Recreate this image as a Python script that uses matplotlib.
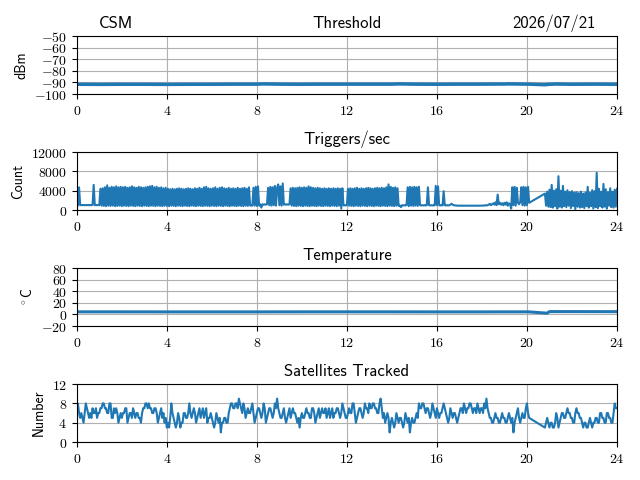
import matplotlib
matplotlib.use("Agg")
import matplotlib.pyplot as plt
import numpy as np
from matplotlib.ticker import FuncFormatter

plt.rcParams['mathtext.fontset'] = 'cm'
plt.rcParams['font.family'] = ['cmss10', 'DejaVu Sans']
plt.rcParams['axes.unicode_minus'] = False

station = "CSM"
date_str = "2026/07/21"

# sample interval of the detector log, in hours (3 min)
dt_log = 0.05

# threshold (dBm), gap between 20.1 and 20.8
thr_hours = [0, 1, 2, 3, 4, 5, 6, 7, 8, 8.3, 9, 10, 11, 12, 13, 14, 14.3, 15, 16, 17, 18, 19, 19.2, 20, 20.1,
             20.8, 21, 21.3, 22, 23, 24]
thr_dbm = [-91.6, -91.7, -91.6, -91.6, -91.7, -91.6, -91.6, -91.5, -91.5, -91.3, -91.5, -91.6, -91.5, -91.5, -91.5,
           -91.5, -91.3, -91.5, -91.6, -91.5, -91.5, -91.4, -91.3, -91.5, -91.5,
           -92.0, -91.6, -91.4, -91.6, -91.5, -91.6]

# temperature (deg C)
temp_hours = [0, 2, 4, 6, 8, 10, 12, 14, 16, 18, 20, 20.1, 20.9, 21.0, 22, 24]
temp_c = [4.5, 4.5, 4.4, 4.4, 4.4, 4.5, 4.5, 4.5, 4.4, 4.4, 4.5, 4.4, 2.2, 4.9, 4.9, 4.8]

# triggers/sec, 0.00 .. 20.10 h
trig_counts_a = [
    4600, 900, 4700, 1000, 1050, 1000, 1050, 1000, 1050, 1000, 1050, 1000, 1050, 1000, 1050, 5200, 1000, 1050, 1000, 1050,
    1000, 4400, 900, 4500, 850, 4700, 800, 5100, 900, 4600, 850, 4800, 900, 4700, 800, 4900, 850, 4700, 900, 4800,
    800, 4700, 900, 4800, 850, 4600, 800, 4700, 900, 4900, 850, 4700, 800, 4600, 900, 4800, 850, 4700, 800, 4600,
    900, 4700, 850, 4800, 800, 4900, 900, 5000, 850, 4700, 800, 4800, 900, 4600, 850, 4700, 800, 4500, 900, 4600,
    850, 4400, 800, 4300, 900, 4400, 850, 4300, 800, 4400, 900, 4500, 850, 4400, 800, 4300, 900, 4400, 850, 4500,
    800, 4400, 900, 4300, 850, 4500, 800, 4400, 900, 4600, 850, 4400, 800, 4700, 900, 4800, 850, 4500, 800, 4400,
    900, 4500, 850, 4700, 800, 4400, 900, 4600, 850, 4700, 800, 4500, 900, 4400, 850, 4600, 800, 4400, 900, 4500,
    850, 4400, 800, 4600, 900, 4400, 850, 4500, 800, 4600, 900, 4400, 850, 4700, 950, 900, 950, 4600, 900, 4800,
    850, 4900, 900, 1200, 500, 1200, 1100, 1200, 1100, 1200, 4600, 1000, 4800, 900, 4700, 1000, 5000, 900, 4600, 5300,
    1000, 4900, 900, 5500, 1100, 1200, 1100, 1200, 1100, 1200, 4500, 900, 4600, 850, 4500, 800, 4600, 900, 4700, 850,
    4600, 800, 4700, 900, 4600, 850, 4900, 800, 4700, 900, 4600, 850, 4500, 800, 4600, 900, 4500, 850, 4400, 800,
    4500, 900, 4400, 850, 4500, 800, 4400, 900, 4500, 850, 4400, 800, 4500, 900, 4400, 300, 4500, 950, 1000, 950,
    1000, 4400, 900, 4500, 850, 4400, 800, 4500, 900, 4600, 850, 4400, 800, 4500, 900, 4400, 850, 4500, 800, 4600,
    900, 4500, 850, 4400, 800, 4500, 900, 4600, 850, 4500, 800, 4600, 900, 4500, 850, 4700, 800, 5300, 900, 4800,
    850, 4600, 800, 4700, 900, 4500, 850, 950, 600, 1000, 950, 1000, 950, 1000, 4700, 800, 4800, 900, 4700, 850,
    4800, 900, 4700, 850, 4800, 1000, 950, 1000, 950, 1000, 950, 1000, 4700, 1000, 950, 1000, 950, 1000, 950, 5000,
    1000, 4900, 1000, 950, 1000, 950, 3900, 1000, 950, 1000, 950, 1000, 1100, 1300, 1100, 1000, 950, 950, 900, 900,
    900, 900, 880, 900, 900, 880, 900, 900, 880, 900, 900, 900, 880, 900, 900, 880, 900, 900, 900, 920,
    900, 950, 900, 1000, 950, 1000, 1100, 1300, 1000, 1200, 1400, 1100, 1600, 1000, 3200, 1200, 1500, 1100, 1400, 1000,
    1500, 1100, 1600, 900, 1400, 1200, 300, 4700, 1000, 4800, 900, 4600, 1500, 1200, 1600, 4700, 1000, 4800, 900, 4700,
    1000, 4800, 1500,
]
# 20.80 .. 24.00 h
trig_start_b = 20.8
trig_counts_b = [
    3400, 900, 3800, 700, 4200, 600, 5200, 500, 4000, 800, 4300, 300, 7000, 700, 4000, 500, 5000, 800, 3800, 600,
    4100, 900, 3700, 400, 3900, 800, 3600, 200, 3700, 700, 3500, 500, 3800, 600, 3400, 400, 3600, 800, 4800, 500,
    3600, 800, 4100, 300, 3900, 600, 7700, 400, 4400, 800, 3800, 500, 5400, 700, 4300, 300, 3700, 900, 4500, 600,
    3800, 500, 4200, 700, 4400,
]

# satellites tracked, 0.00 .. 20.10 h
sats_a = [
    8, 8, 6, 5, 6, 5, 4, 6, 8, 7, 6, 5, 6, 5, 7, 6, 6, 7, 5, 6,
    6, 7, 7, 8, 8, 7, 7, 6, 6, 8, 8, 5, 5, 7, 6, 7, 6, 4, 5, 6,
    5, 6, 6, 7, 7, 4, 5, 6, 6, 5, 7, 6, 5, 6, 6, 5, 5, 4, 6, 7,
    7, 8, 8, 7, 8, 7, 7, 6, 6, 7, 7, 6, 4, 5, 6, 7, 5, 6, 4, 5,
    3, 4, 3, 5, 8, 6, 5, 4, 3, 4, 6, 5, 3, 4, 4, 6, 6, 5, 5, 6,
    8, 6, 5, 6, 7, 6, 4, 5, 6, 7, 5, 6, 7, 5, 6, 7, 4, 5, 5, 6,
    5, 4, 3, 4, 6, 5, 4, 5, 2, 4, 4, 5, 5, 4, 4, 6, 7, 8, 8, 7,
    7, 8, 8, 7, 9, 8, 7, 6, 8, 7, 5, 6, 7, 6, 6, 7, 8, 6, 4, 5,
    6, 7, 7, 6, 5, 6, 8, 7, 4, 5, 6, 7, 7, 6, 5, 6, 8, 7, 9, 7,
    6, 5, 5, 6, 7, 5, 4, 5, 6, 7, 5, 6, 7, 6, 6, 5, 4, 5, 3, 5,
    6, 5, 5, 6, 7, 6, 6, 5, 5, 7, 7, 6, 4, 5, 6, 7, 5, 6, 7, 6,
    6, 7, 5, 6, 7, 5, 6, 7, 5, 6, 6, 7, 7, 6, 5, 6, 8, 7, 6, 5,
    5, 6, 7, 6, 6, 8, 8, 6, 4, 5, 6, 7, 7, 6, 5, 6, 8, 7, 7, 6,
    8, 7, 7, 8, 8, 7, 7, 6, 6, 8, 9, 7, 5, 6, 4, 5, 6, 5, 2, 4,
    5, 4, 3, 4, 6, 5, 4, 5, 5, 4, 3, 4, 6, 5, 4, 5, 2, 4, 5, 4,
    4, 5, 6, 5, 8, 7, 7, 8, 8, 7, 6, 7, 7, 6, 5, 6, 8, 7, 6, 5,
    7, 6, 5, 6, 6, 7, 8, 7, 6, 5, 4, 5, 7, 6, 5, 6, 6, 5, 4, 5,
    6, 7, 7, 6, 8, 7, 6, 7, 7, 8, 8, 7, 6, 7, 7, 6, 8, 7, 6, 7,
    7, 6, 8, 7, 9, 7, 6, 5, 5, 4, 4, 5, 6, 5, 5, 4, 4, 5, 6, 5,
    5, 4, 4, 5, 6, 5, 4, 5, 2, 4, 5, 6, 7, 5, 4, 5, 6, 5, 5, 7,
    8, 6, 5,
]
sats_start_b = 20.8
sats_b = [
    3, 4, 5, 4, 3, 4, 4, 3, 3, 4, 6, 5, 3, 4, 5, 6, 6, 5, 5, 6,
    7, 6, 6, 5, 5, 4, 4, 6, 7, 6, 6, 5, 5, 4, 3, 4, 4, 3, 3, 4,
    5, 4, 3, 4, 4, 5, 5, 4, 4, 6, 6, 5, 5, 4, 4, 6, 6, 5, 5, 4,
    4, 6, 8, 7, 7,
]


def log_hours(start, n):
    return start + dt_log * np.arange(n)


trig_hours = np.concatenate([log_hours(0.0, len(trig_counts_a)),
                             log_hours(trig_start_b, len(trig_counts_b))])
trig_counts = np.concatenate([trig_counts_a, trig_counts_b])
sats_hours = np.concatenate([log_hours(0.0, len(sats_a)),
                             log_hours(sats_start_b, len(sats_b))])
sats = np.concatenate([sats_a, sats_b])

mathfmt = FuncFormatter(lambda v, pos: "$%d$" % v)

fig, axs = plt.subplots(4, 1, figsize=(6.4, 4.8), dpi=100)
fig.subplots_adjust(left=0.12, right=0.964, top=0.925, bottom=0.079, hspace=1.0)

panels = [
    (thr_hours, thr_dbm, "Threshold", "dBm", (-100, -50), np.arange(-100, -49, 10), 2.5),
    (trig_hours, trig_counts, "Triggers/sec", "Count", (0, 12000), [0, 4000, 8000, 12000], 1.5),
    (temp_hours, temp_c, "Temperature", r"$^\circ$C", (-20, 80), np.arange(-20, 81, 20), 2.2),
    (sats_hours, sats, "Satellites Tracked", "Number", (0, 12), [0, 4, 8, 12], 1.5),
]

for ax, (x, y, title, ylabel, ylim, yticks, lw) in zip(axs, panels):
    ax.plot(x, y, color="#1f77b4", linewidth=lw)
    ax.set_title(title, fontsize=12)
    ax.set_ylabel(ylabel)
    ax.set_xlim(0, 24)
    ax.set_ylim(*ylim)
    ax.set_xticks(np.arange(0, 25, 4))
    ax.set_yticks(yticks)
    ax.xaxis.set_major_formatter(mathfmt)
    ax.yaxis.set_major_formatter(mathfmt)
    ax.grid(True)

axs[0].set_title(station, loc="left", fontsize=12, x=0.04)
axs[0].set_title(date_str, loc="right", fontsize=12, x=0.96)

fig.savefig("out.png")
